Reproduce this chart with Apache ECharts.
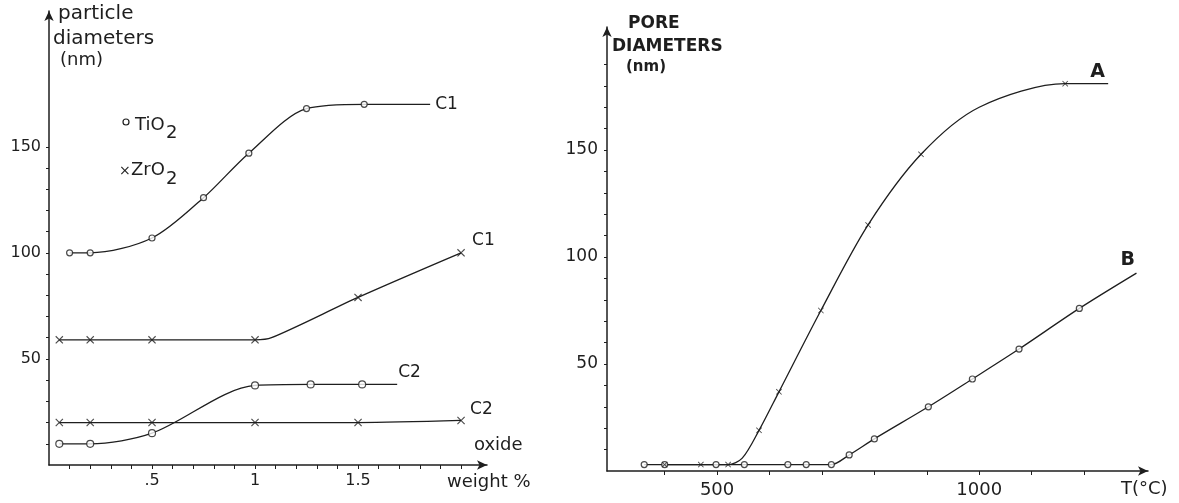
<!DOCTYPE html>
<html>
<head>
<meta charset="utf-8">
<script src="https://cdn.jsdelivr.net/npm/echarts@6/dist/echarts.min.js"></script>
<style>
  html, body { margin: 0; padding: 0; background: #fff; }
  #chart { width: 1179px; height: 503px; }
</style>
</head>
<body>
<div id="chart"></div>
<script>
// left panel: particle diameters (nm) vs oxide weight %
const tio2C1 = [[0.1, 100], [0.2, 100], [0.5, 107], [0.75, 126], [0.97, 147], [1.25, 168], [1.53, 170]];
const tio2C1Tail = [[1.85, 170]];
const tio2C2 = [[0.05, 10], [0.2, 10], [0.5, 15], [1.0, 37.5], [1.27, 38], [1.52, 38]];
const tio2C2Tail = [[1.69, 38]];
const zro2C1 = [[0.05, 59], [0.2, 59], [0.5, 59], [1.0, 59], [1.5, 79], [2.0, 100]];
const zro2C1Bend = [[1.08, 60]];
const zro2C2 = [[0.05, 20], [0.2, 20], [0.5, 20], [1.0, 20], [1.5, 20], [2.0, 21]];
const leftXLabels = ['.5', '1', '1.5'];
const leftXLabelValues = [0.5, 1, 1.5];
const leftXTicks = [0.1, 0.2, 0.3, 0.4, 0.5, 0.6, 0.7, 0.8, 0.9, 1, 1.1, 1.2, 1.3, 1.4, 1.5, 1.6, 1.7, 1.8, 1.9, 2.0];
const leftYLabels = [50, 100, 150];
const leftYTicks = [10, 20, 30, 40, 50, 60, 70, 80, 90, 100, 110, 120, 130, 140, 150];

// right panel: pore diameters (nm) vs T (°C)
const curveA = [[400, 3], [469, 3], [521, 3], [580, 19], [618, 37], [698, 75], [788, 115], [889, 148], [1164, 181]];
const curveAShape = [[548, 6], [1000, 170], [1246, 181]];
const curveB = [[361, 3], [400, 3], [498, 3], [552, 3], [635, 3], [670, 3], [718, 3], [752, 7.5], [800, 15], [903, 30], [987, 43], [1076, 57], [1191, 76]];
const curveBShape = [[1300, 92.5]];
const rightXLabels = [500, 1000];
const rightXTicks = [400, 500, 600, 700, 800, 900, 1000, 1100, 1200];
const rightYLabels = [50, 100, 150];
const rightYTicks = [10, 20, 30, 40, 50, 60, 70, 80, 90, 100, 110, 120, 130, 140, 150, 160, 170, 180, 190];

const INK = '#1e1e1e';
const FONT = 'DejaVu Sans, sans-serif';
const cross = 'path://M0,1L1,0L5,4L9,0L10,1L6,5L10,9L9,10L5,6L1,10L0,9L4,5Z';

var myChart = echarts.init(document.getElementById('chart'));

function trace(pts, extra) {
    return pts.concat(extra || []).sort(function (a, b) { return a[0] - b[0]; });
}

function line(data, idx, label, offset) {
    return {
        type: 'line',
        xAxisIndex: idx,
        yAxisIndex: idx,
        data: data,
        smooth: 0.3,
        symbol: 'none',
        silent: true,
        lineStyle: { color: INK, width: 1.3 },
        endLabel: {
            show: true,
            formatter: label,
            distance: 3,
            offset: offset,
            color: INK,
            fontSize: idx === 0 ? 17 : 19,
            fontFamily: FONT,
            fontWeight: idx === 0 ? 'normal' : 'bold'
        },
        z: 2
    };
}

function marks(data, idx, kind, size) {
    return {
        type: 'scatter',
        xAxisIndex: idx,
        yAxisIndex: idx,
        data: data,
        symbol: kind === 'o' ? 'circle' : cross,
        symbolSize: size,
        silent: true,
        itemStyle: kind === 'o'
            ? { color: '#fff', borderColor: INK, borderWidth: 1.2 }
            : { color: INK },
        z: 3
    };
}

function axisLine() {
    return {
        show: true,
        symbol: ['none', 'arrow'],
        symbolSize: [7, 10],
        lineStyle: { color: INK, width: 1.5 }
    };
}

option = {
    animation: false,
    grid: [
        { left: 49, top: 11, width: 438, height: 454 },
        { left: 607, top: 27, width: 541, height: 444 }
    ],
    xAxis: [
        {
            type: 'value', gridIndex: 0, min: 0, max: 2.126,
            axisLine: axisLine(),
            axisTick: { show: true, customValues: leftXTicks, length: 4, lineStyle: { color: INK } },
            axisLabel: {
                customValues: leftXLabelValues,
                formatter: function (v) { return leftXLabels[leftXLabelValues.indexOf(v)]; },
                color: INK, fontSize: 16, fontFamily: FONT, margin: 8
            },
            splitLine: { show: false }
        },
        {
            type: 'value', gridIndex: 1, min: 290, max: 1322,
            axisLine: axisLine(),
            axisTick: { show: true, customValues: rightXTicks, length: 4, lineStyle: { color: INK } },
            axisLabel: {
                customValues: rightXLabels,
                formatter: function (v) { return String(v); },
                color: INK, fontSize: 18, fontFamily: FONT, margin: 10
            },
            splitLine: { show: false }
        }
    ],
    yAxis: [
        {
            type: 'value', gridIndex: 0, min: 0, max: 214,
            axisLine: axisLine(),
            axisTick: { show: true, customValues: leftYTicks, length: 3, lineStyle: { color: INK } },
            axisLabel: { customValues: leftYLabels, color: INK, fontSize: 16, fontFamily: FONT, margin: 8 },
            splitLine: { show: false }
        },
        {
            type: 'value', gridIndex: 1, min: 0, max: 207.5,
            axisLine: axisLine(),
            axisTick: { show: true, customValues: rightYTicks, length: 3, lineStyle: { color: INK } },
            axisLabel: { customValues: rightYLabels, color: INK, fontSize: 17, fontFamily: FONT, margin: 9 },
            splitLine: { show: false }
        }
    ],
    graphic: [
        // left y title
        { type: 'text', left: 58, top: 4, style: { text: 'particle', fill: INK, font: '20px ' + FONT } },
        { type: 'text', left: 53, top: 29, style: { text: 'diameters', fill: INK, font: '20px ' + FONT } },
        { type: 'text', left: 60, top: 51, style: { text: '(nm)', fill: INK, font: '18px ' + FONT } },
        // legend
        { type: 'circle', shape: { cx: 126, cy: 122, r: 3 }, style: { fill: '#fff', stroke: INK, lineWidth: 1.2 } },
        { type: 'text', left: 135, top: 116, style: { text: 'TiO', fill: INK, font: '18px ' + FONT } },
        { type: 'text', left: 166, top: 124, style: { text: '2', fill: INK, font: '18px ' + FONT } },
        { type: 'text', left: 119, top: 164, style: { text: '×', fill: INK, font: '14px ' + FONT } },
        { type: 'text', left: 131, top: 161, style: { text: 'ZrO', fill: INK, font: '18px ' + FONT } },
        { type: 'text', left: 166, top: 170, style: { text: '2', fill: INK, font: '18px ' + FONT } },
        // left x titles
        { type: 'text', left: 474, top: 436, style: { text: 'oxide', fill: INK, font: '18px ' + FONT } },
        { type: 'text', left: 447, top: 473, style: { text: 'weight %', fill: INK, font: '18px ' + FONT } },
        // right y title
        { type: 'text', left: 628, top: 15, style: { text: 'PORE', fill: INK, font: 'bold 17px ' + FONT } },
        { type: 'text', left: 612, top: 38, style: { text: 'DIAMETERS', fill: INK, font: 'bold 17px ' + FONT } },
        { type: 'text', left: 626, top: 60, style: { text: '(nm)', fill: INK, font: 'bold 15px ' + FONT } },
        // right x title
        { type: 'text', left: 1121, top: 480, style: { text: 'T(°C)', fill: INK, font: '18px ' + FONT } }
    ],
    series: [
        line(trace(tio2C1, tio2C1Tail), 0, 'C1', [2, 0]),
        line(trace(zro2C1, zro2C1Bend), 0, 'C1', [8, -12]),
        line(trace(tio2C2, tio2C2Tail), 0, 'C2', [-2, -12]),
        line(trace(zro2C2), 0, 'C2', [6, -11]),
        marks(tio2C1, 0, 'o', 6),
        marks(tio2C2, 0, 'o', 7),
        marks(zro2C1, 0, 'x', 8),
        marks(zro2C2, 0, 'x', 8),
        line(trace(curveB, curveBShape), 1, 'B', [-19, -13]),
        line(trace(curveA, curveAShape), 1, 'A', [-21, -12]),
        marks(curveB, 1, 'o', 6),
        marks(curveA, 1, 'x', 6)
    ]
};
myChart.setOption(option);
</script>
</body>
</html>
